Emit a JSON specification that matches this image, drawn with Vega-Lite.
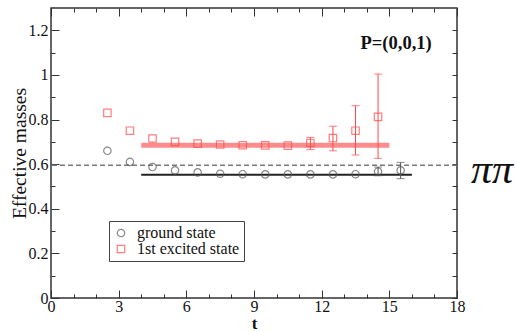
{
  "$schema": "https://vega.github.io/schema/vega-lite/v6.json",
  "width": 406,
  "height": 290,
  "autosize": "none",
  "padding": {"left": 51, "top": 8, "right": 60, "bottom": 34},
  "background": "white",
  "config": {
    "view": {"stroke": "#333", "strokeWidth": 1.5},
    "font": "Liberation Serif",
    "axis": {"grid": false, "domain": false, "labelFlush": false, "tickColor": "#333", "tickWidth": 1, "labelFont": "Liberation Serif", "titleFont": "Liberation Serif", "labelColor": "#111", "titleColor": "#111"}
  },
  "datasets": {
    "pts": [
      {"t": 2.5, "m": 0.66, "state": "ground state"},
      {"t": 3.5, "m": 0.61, "state": "ground state"},
      {"t": 4.5, "m": 0.587, "state": "ground state"},
      {"t": 5.5, "m": 0.572, "state": "ground state"},
      {"t": 6.5, "m": 0.563, "state": "ground state"},
      {"t": 7.5, "m": 0.557, "state": "ground state"},
      {"t": 8.5, "m": 0.555, "state": "ground state"},
      {"t": 9.5, "m": 0.554, "state": "ground state"},
      {"t": 10.5, "m": 0.554, "state": "ground state"},
      {"t": 11.5, "m": 0.554, "state": "ground state"},
      {"t": 12.5, "m": 0.554, "state": "ground state"},
      {"t": 13.5, "m": 0.555, "state": "ground state"},
      {"t": 14.5, "m": 0.567, "state": "ground state"},
      {"t": 15.5, "m": 0.572, "state": "ground state"},
      {"t": 2.5, "m": 0.83, "state": "1st excited state"},
      {"t": 3.5, "m": 0.75, "state": "1st excited state"},
      {"t": 4.5, "m": 0.715, "state": "1st excited state"},
      {"t": 5.5, "m": 0.7, "state": "1st excited state"},
      {"t": 6.5, "m": 0.692, "state": "1st excited state"},
      {"t": 7.5, "m": 0.688, "state": "1st excited state"},
      {"t": 8.5, "m": 0.685, "state": "1st excited state"},
      {"t": 9.5, "m": 0.684, "state": "1st excited state"},
      {"t": 10.5, "m": 0.683, "state": "1st excited state"},
      {"t": 11.5, "m": 0.695, "state": "1st excited state"},
      {"t": 12.5, "m": 0.717, "state": "1st excited state"},
      {"t": 13.5, "m": 0.75, "state": "1st excited state"},
      {"t": 14.5, "m": 0.812, "state": "1st excited state"}
    ],
    "err": [
      {"t": 14.5, "lo": 0.548, "hi": 0.587, "state": "ground state"},
      {"t": 15.5, "lo": 0.535, "hi": 0.608, "state": "ground state"},
      {"t": 11.5, "lo": 0.665, "hi": 0.72, "state": "1st excited state"},
      {"t": 12.5, "lo": 0.66, "hi": 0.77, "state": "1st excited state"},
      {"t": 13.5, "lo": 0.641, "hi": 0.862, "state": "1st excited state"},
      {"t": 14.5, "lo": 0.626, "hi": 1.004, "state": "1st excited state"}
    ]
  },
  "resolve": {"axis": {"x": "independent", "y": "independent"}},
  "layer": [
    {
      "data": {"values": [{"level": 0.595}]},
      "mark": {"type": "rule", "strokeDash": [5, 3], "color": "#777", "strokeWidth": 1.5},
      "encoding": {
        "y": {"field": "level", "type": "quantitative", "axis": null, "scale": {"domain": [0, 1.3], "nice": false, "zero": false}}
      }
    },
    {
      "data": {"values": [{"t0": 4, "t1": 15, "m": 0.685}]},
      "mark": {"type": "rule", "color": "#ff8c8c", "strokeWidth": 5},
      "encoding": {
        "x": {"field": "t0", "type": "quantitative", "axis": null},
        "x2": {"field": "t1"},
        "y": {"field": "m", "type": "quantitative", "axis": null}
      }
    },
    {
      "data": {"values": [{"t0": 4, "t1": 16, "m": 0.553}]},
      "mark": {"type": "rule", "color": "#222", "strokeWidth": 2},
      "encoding": {
        "x": {"field": "t0", "type": "quantitative", "axis": null},
        "x2": {"field": "t1"},
        "y": {"field": "m", "type": "quantitative", "axis": null}
      }
    },
    {
      "data": {"name": "err"},
      "transform": [{"filter": "datum.state === 'ground state'"}],
      "mark": {"type": "rule", "strokeWidth": 1, "color": "#555555"},
      "encoding": {
        "x": {"field": "t", "type": "quantitative", "axis": null},
        "y": {"field": "lo", "type": "quantitative", "axis": null},
        "y2": {"field": "hi"}
      }
    },
    {
      "data": {"name": "err"},
      "transform": [{"filter": "datum.state === 'ground state'"}],
      "mark": {"type": "tick", "orient": "horizontal", "size": 8, "thickness": 1, "color": "#555555"},
      "encoding": {
        "x": {"field": "t", "type": "quantitative", "axis": null},
        "y": {"field": "lo", "type": "quantitative", "axis": null}
      }
    },
    {
      "data": {"name": "err"},
      "transform": [{"filter": "datum.state === 'ground state'"}],
      "mark": {"type": "tick", "orient": "horizontal", "size": 8, "thickness": 1, "color": "#555555"},
      "encoding": {
        "x": {"field": "t", "type": "quantitative", "axis": null},
        "y": {"field": "hi", "type": "quantitative", "axis": null}
      }
    },
    {
      "data": {"name": "err"},
      "transform": [{"filter": "datum.state !== 'ground state'"}],
      "mark": {"type": "rule", "strokeWidth": 1, "color": "#ff4747"},
      "encoding": {
        "x": {"field": "t", "type": "quantitative", "axis": null},
        "y": {"field": "lo", "type": "quantitative", "axis": null},
        "y2": {"field": "hi"}
      }
    },
    {
      "data": {"name": "err"},
      "transform": [{"filter": "datum.state !== 'ground state'"}],
      "mark": {"type": "tick", "orient": "horizontal", "size": 8, "thickness": 1, "color": "#ff4747"},
      "encoding": {
        "x": {"field": "t", "type": "quantitative", "axis": null},
        "y": {"field": "lo", "type": "quantitative", "axis": null}
      }
    },
    {
      "data": {"name": "err"},
      "transform": [{"filter": "datum.state !== 'ground state'"}],
      "mark": {"type": "tick", "orient": "horizontal", "size": 8, "thickness": 1, "color": "#ff4747"},
      "encoding": {
        "x": {"field": "t", "type": "quantitative", "axis": null},
        "y": {"field": "hi", "type": "quantitative", "axis": null}
      }
    },
    {
      "data": {"name": "pts"},
      "mark": {"type": "point", "filled": false, "size": 55, "strokeWidth": 1.2},
      "encoding": {
        "x": {
          "field": "t", "type": "quantitative",
          "scale": {"domain": [0, 18], "nice": false, "zero": false},
          "axis": {
            "orient": "bottom",
            "values": [0,1,2,3,4,5,6,7,8,9,10,11,12,13,14,15,16,17,18],
            "tickSize": {"condition": {"test": "datum.value % 3 === 0", "value": -8}, "value": -4},
            "labelExpr": "datum.value % 3 === 0 ? datum.label : ''",
            "labelFontSize": 16,
            "labelPadding": 8,
            "title": "t",
            "titleFontSize": 17,
            "titleFontWeight": "bold",
            "titlePadding": 1
          }
        },
        "y": {
          "field": "m", "type": "quantitative",
          "axis": {
            "orient": "left",
            "values": [0,0.1,0.2,0.3,0.4,0.5,0.6,0.7,0.8,0.9,1,1.1,1.2],
            "format": "~g",
            "tickSize": {"condition": {"test": "abs(datum.value*5 - round(datum.value*5)) < 0.001", "value": -8}, "value": -4},
            "labelExpr": "abs(datum.value*5 - round(datum.value*5)) < 0.001 ? datum.label : ''",
            "labelFontSize": 16,
            "labelPadding": 11,
            "title": "Effective masses",
            "titleFontSize": 19.5,
            "titleFontWeight": "normal",
            "titlePadding": -1
          }
        },
        "color": {
          "field": "state", "type": "nominal",
          "scale": {"domain": ["ground state", "1st excited state"], "range": ["#555555", "#ff4747"]},
          "legend": {
            "title": null, "orient": "none", "legendX": 58, "legendY": 213,
            "strokeColor": "#444", "padding": 4, "labelFont": "Liberation Serif", "labelFontSize": 16,
            "labelColor": "#111", "symbolSize": 55, "symbolStrokeWidth": 1.2, "rowPadding": 0, "labelOffset": 8
          }
        },
        "shape": {
          "field": "state", "type": "nominal",
          "scale": {"domain": ["ground state", "1st excited state"], "range": ["circle", "square"]}
        }
      }
    },
    {
      "data": {"name": "pts"},
      "mark": {"type": "point", "opacity": 0},
      "encoding": {
        "x": {
          "field": "t", "type": "quantitative",
          "axis": {
            "orient": "top",
            "values": [0,1,2,3,4,5,6,7,8,9,10,11,12,13,14,15,16,17,18],
            "tickSize": {"condition": {"test": "datum.value % 3 === 0", "value": -8}, "value": -4},
            "labels": false,
            "title": "t",
            "titleFontSize": 17,
            "titleFontWeight": "bold",
            "titlePadding": 4
          }
        },
        "y": {
          "field": "m", "type": "quantitative",
          "axis": {
            "orient": "right",
            "values": [0,0.1,0.2,0.3,0.4,0.5,0.6,0.7,0.8,0.9,1,1.1,1.2],
            "tickSize": -5,
            "labels": false,
            "title": null
          }
        }
      }
    },
    {
      "data": {"values": [{"t": 15.3, "m": 1.145, "label": "P=(0,0,1)"}]},
      "mark": {"type": "text", "fontWeight": "bold", "fontSize": 18.5, "font": "Liberation Serif", "color": "#111", "align": "center", "baseline": "middle"},
      "encoding": {
        "x": {"field": "t", "type": "quantitative", "axis": null},
        "y": {"field": "m", "type": "quantitative", "axis": null},
        "text": {"field": "label"}
      }
    },
    {
      "data": {"values": [{"t": 19.55, "m": 0.575, "label": "ππ"}]},
      "mark": {"type": "text", "fontStyle": "italic", "fontSize": 42, "font": "Liberation Serif", "color": "#111", "align": "center", "baseline": "middle"},
      "encoding": {
        "x": {"field": "t", "type": "quantitative", "axis": null},
        "y": {"field": "m", "type": "quantitative", "axis": null},
        "text": {"field": "label"}
      }
    }
  ]
}
